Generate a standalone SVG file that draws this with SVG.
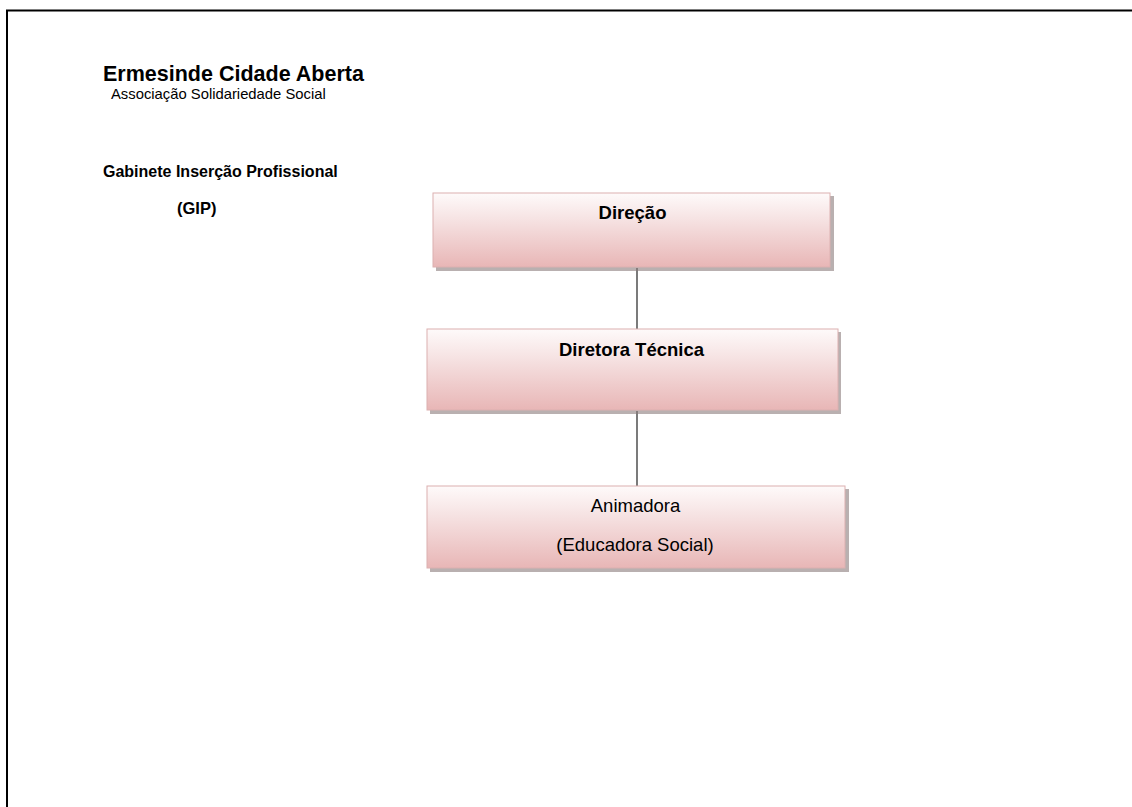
<svg xmlns="http://www.w3.org/2000/svg" width="1132" height="807" viewBox="0 0 1132 807">
<defs>
<linearGradient id="g" x1="0" y1="0" x2="0" y2="1">
<stop offset="0" stop-color="#fefafa"/>
<stop offset="0.35" stop-color="#f6e3e3"/>
<stop offset="1" stop-color="#e8b6b6"/>
</linearGradient>
</defs>
<style>
text{font-family:"Liberation Sans",Arial,sans-serif;fill:#000}
.b{font-weight:bold}
.box{fill:url(#g);stroke:#dcb0b0;stroke-width:1}
.sh{fill:#8a7c7c;opacity:0.6}
.c{stroke:#333;stroke-width:1.3}
.t{font-size:18.5px;text-anchor:middle}
</style>
<rect width="1132" height="807" fill="#fff"/>
<path d="M7,807 V10.5 H1132" fill="none" stroke="#000" stroke-width="2"/>
<g id="header">
<text class="b" x="103" y="80.5" font-size="21.5">Ermesinde Cidade Aberta</text>
<text x="111" y="98.5" font-size="14.8">Associação Solidariedade Social</text>
<text class="b" x="103" y="176.5" font-size="16">Gabinete Inserção Profissional</text>
<text class="b" x="177" y="214" font-size="16.5">(GIP)</text>
</g>
<g id="connectors">
<line class="c" x1="637" y1="268" x2="637" y2="329"/>
<line class="c" x1="637" y1="411" x2="637" y2="486"/>
</g>
<g id="direcao">
<rect class="sh" x="436" y="196" width="398" height="75"/>
<rect class="box" x="433" y="193" width="397" height="74"/>
<text class="b t" x="632.5" y="219">Direção</text>
</g>
<g id="diretora">
<rect class="sh" x="430" y="332" width="411" height="82"/>
<rect class="box" x="427" y="329" width="411" height="81"/>
<text class="b t" x="631.5" y="356">Diretora Técnica</text>
</g>
<g id="animadora">
<rect class="sh" x="430" y="489" width="419" height="83"/>
<rect class="box" x="427" y="486" width="418" height="82"/>
<text class="t" x="635.5" y="512">Animadora</text>
<text class="t" x="635" y="551">(Educadora Social)</text>
</g>
</svg>
